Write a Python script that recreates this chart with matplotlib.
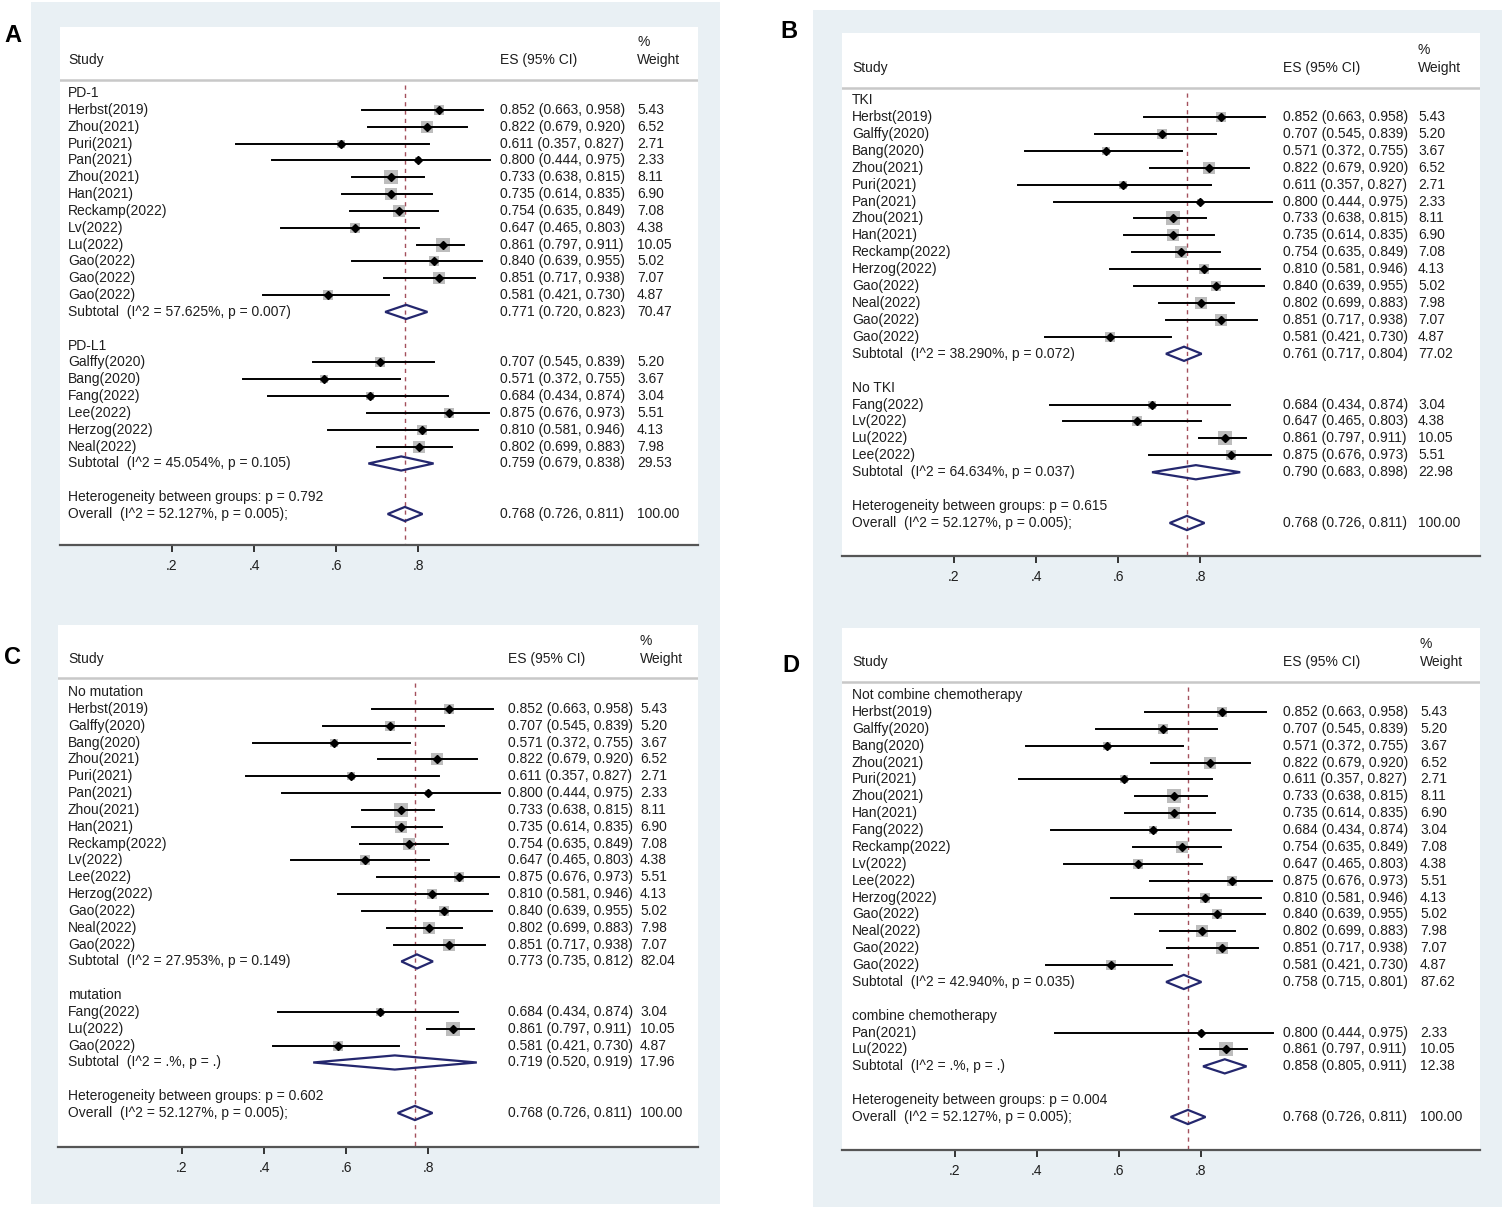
import matplotlib.pyplot as plt
from matplotlib.patches import Rectangle, Polygon

plt.rcParams['font.family'] = ['Liberation Sans', 'DejaVu Sans']

# ---- study data (ES, lower, upper, weight) per panel ----
# Panel A: PD-1 vs PD-L1
a_g1_names = ["Herbst(2019)", "Zhou(2021)", "Puri(2021)", "Pan(2021)", "Zhou(2021)", "Han(2021)",
              "Reckamp(2022)", "Lv(2022)", "Lu(2022)", "Gao(2022)", "Gao(2022)", "Gao(2022)"]
a_g1_es = [0.852, 0.822, 0.611, 0.800, 0.733, 0.735, 0.754, 0.647, 0.861, 0.840, 0.851, 0.581]
a_g1_lo = [0.663, 0.679, 0.357, 0.444, 0.638, 0.614, 0.635, 0.465, 0.797, 0.639, 0.717, 0.421]
a_g1_hi = [0.958, 0.920, 0.827, 0.975, 0.815, 0.835, 0.849, 0.803, 0.911, 0.955, 0.938, 0.730]
a_g1_w = [5.43, 6.52, 2.71, 2.33, 8.11, 6.90, 7.08, 4.38, 10.05, 5.02, 7.07, 4.87]
a_g2_names = ["Galffy(2020)", "Bang(2020)", "Fang(2022)", "Lee(2022)", "Herzog(2022)", "Neal(2022)"]
a_g2_es = [0.707, 0.571, 0.684, 0.875, 0.810, 0.802]
a_g2_lo = [0.545, 0.372, 0.434, 0.676, 0.581, 0.699]
a_g2_hi = [0.839, 0.755, 0.874, 0.973, 0.946, 0.883]
a_g2_w = [5.20, 3.67, 3.04, 5.51, 4.13, 7.98]

# Panel B: TKI vs No TKI
b_g1_names = ["Herbst(2019)", "Galffy(2020)", "Bang(2020)", "Zhou(2021)", "Puri(2021)", "Pan(2021)",
              "Zhou(2021)", "Han(2021)", "Reckamp(2022)", "Herzog(2022)", "Gao(2022)", "Neal(2022)",
              "Gao(2022)", "Gao(2022)"]
b_g1_es = [0.852, 0.707, 0.571, 0.822, 0.611, 0.800, 0.733, 0.735, 0.754, 0.810, 0.840, 0.802, 0.851, 0.581]
b_g1_lo = [0.663, 0.545, 0.372, 0.679, 0.357, 0.444, 0.638, 0.614, 0.635, 0.581, 0.639, 0.699, 0.717, 0.421]
b_g1_hi = [0.958, 0.839, 0.755, 0.920, 0.827, 0.975, 0.815, 0.835, 0.849, 0.946, 0.955, 0.883, 0.938, 0.730]
b_g1_w = [5.43, 5.20, 3.67, 6.52, 2.71, 2.33, 8.11, 6.90, 7.08, 4.13, 5.02, 7.98, 7.07, 4.87]
b_g2_names = ["Fang(2022)", "Lv(2022)", "Lu(2022)", "Lee(2022)"]
b_g2_es = [0.684, 0.647, 0.861, 0.875]
b_g2_lo = [0.434, 0.465, 0.797, 0.676]
b_g2_hi = [0.874, 0.803, 0.911, 0.973]
b_g2_w = [3.04, 4.38, 10.05, 5.51]

# Panel C: No mutation vs mutation
c_g1_names = ["Herbst(2019)", "Galffy(2020)", "Bang(2020)", "Zhou(2021)", "Puri(2021)", "Pan(2021)",
              "Zhou(2021)", "Han(2021)", "Reckamp(2022)", "Lv(2022)", "Lee(2022)", "Herzog(2022)",
              "Gao(2022)", "Neal(2022)", "Gao(2022)"]
c_g1_es = [0.852, 0.707, 0.571, 0.822, 0.611, 0.800, 0.733, 0.735, 0.754, 0.647, 0.875, 0.810, 0.840, 0.802, 0.851]
c_g1_lo = [0.663, 0.545, 0.372, 0.679, 0.357, 0.444, 0.638, 0.614, 0.635, 0.465, 0.676, 0.581, 0.639, 0.699, 0.717]
c_g1_hi = [0.958, 0.839, 0.755, 0.920, 0.827, 0.975, 0.815, 0.835, 0.849, 0.803, 0.973, 0.946, 0.955, 0.883, 0.938]
c_g1_w = [5.43, 5.20, 3.67, 6.52, 2.71, 2.33, 8.11, 6.90, 7.08, 4.38, 5.51, 4.13, 5.02, 7.98, 7.07]
c_g2_names = ["Fang(2022)", "Lu(2022)", "Gao(2022)"]
c_g2_es = [0.684, 0.861, 0.581]
c_g2_lo = [0.434, 0.797, 0.421]
c_g2_hi = [0.874, 0.911, 0.730]
c_g2_w = [3.04, 10.05, 4.87]

# Panel D: Not combine vs combine chemotherapy
d_g1_names = ["Herbst(2019)", "Galffy(2020)", "Bang(2020)", "Zhou(2021)", "Puri(2021)", "Zhou(2021)",
              "Han(2021)", "Fang(2022)", "Reckamp(2022)", "Lv(2022)", "Lee(2022)", "Herzog(2022)",
              "Gao(2022)", "Neal(2022)", "Gao(2022)", "Gao(2022)"]
d_g1_es = [0.852, 0.707, 0.571, 0.822, 0.611, 0.733, 0.735, 0.684, 0.754, 0.647, 0.875, 0.810, 0.840, 0.802, 0.851, 0.581]
d_g1_lo = [0.663, 0.545, 0.372, 0.679, 0.357, 0.638, 0.614, 0.434, 0.635, 0.465, 0.676, 0.581, 0.639, 0.699, 0.717, 0.421]
d_g1_hi = [0.958, 0.839, 0.755, 0.920, 0.827, 0.815, 0.835, 0.874, 0.849, 0.803, 0.973, 0.946, 0.955, 0.883, 0.938, 0.730]
d_g1_w = [5.43, 5.20, 3.67, 6.52, 2.71, 8.11, 6.90, 3.04, 7.08, 4.38, 5.51, 4.13, 5.02, 7.98, 7.07, 4.87]
d_g2_names = ["Pan(2021)", "Lu(2022)"]
d_g2_es = [0.800, 0.861]
d_g2_lo = [0.444, 0.797]
d_g2_hi = [0.975, 0.911]
d_g2_w = [2.33, 10.05]

# subgroup labels, subtotal summaries, heterogeneity
group_labels = {"A": ("PD-1", "PD-L1"), "B": ("TKI", "No TKI"),
                "C": ("No mutation", "mutation"),
                "D": ("Not combine chemotherapy", "combine chemotherapy")}
sub_i2 = {"A": ("57.625", "45.054"), "B": ("38.290", "64.634"),
          "C": ("27.953", "."), "D": ("42.940", ".")}
sub_p = {"A": ("0.007", "0.105"), "B": ("0.072", "0.037"),
         "C": ("0.149", "."), "D": ("0.035", ".")}
sub_es = {"A": (0.771, 0.759), "B": (0.761, 0.790), "C": (0.773, 0.719), "D": (0.758, 0.858)}
sub_lo = {"A": (0.720, 0.679), "B": (0.717, 0.683), "C": (0.735, 0.520), "D": (0.715, 0.805)}
sub_hi = {"A": (0.823, 0.838), "B": (0.804, 0.898), "C": (0.812, 0.919), "D": (0.801, 0.911)}
sub_w = {"A": (70.47, 29.53), "B": (77.02, 22.98), "C": (82.04, 17.96), "D": (87.62, 12.38)}
het_p = {"A": "0.792", "B": "0.615", "C": "0.602", "D": "0.004"}
overall_es, overall_lo, overall_hi = 0.768, 0.726, 0.811
overall_i2, overall_p = "52.127", "0.005"
ticks = [0.2, 0.4, 0.6, 0.8]

studies = {
    "A": ((a_g1_names, a_g1_es, a_g1_lo, a_g1_hi, a_g1_w), (a_g2_names, a_g2_es, a_g2_lo, a_g2_hi, a_g2_w)),
    "B": ((b_g1_names, b_g1_es, b_g1_lo, b_g1_hi, b_g1_w), (b_g2_names, b_g2_es, b_g2_lo, b_g2_hi, b_g2_w)),
    "C": ((c_g1_names, c_g1_es, c_g1_lo, c_g1_hi, c_g1_w), (c_g2_names, c_g2_es, c_g2_lo, c_g2_hi, c_g2_w)),
    "D": ((d_g1_names, d_g1_es, d_g1_lo, d_g1_hi, d_g1_w), (d_g2_names, d_g2_es, d_g2_lo, d_g2_hi, d_g2_w)),
}

# ---- layout in pixels: white box, x of value 0, first row y, row step, header y, separator y, columns ----
W, H = 1502, 1207
PX_PER_UNIT = 410
layout = {
    "A": dict(box=(60, 27, 698, 545), x0=90, row0=93, step=16.84, head=60, sep=80, cols=(68, 500, 637), letter=(13, 35)),
    "B": dict(box=(842, 33, 1480, 556), x0=872, row0=100, step=16.92, head=68, sep=88, cols=(852, 1283, 1418), letter=(789, 32)),
    "C": dict(box=(58, 625, 698, 1147), x0=100, row0=692, step=16.84, head=659, sep=678, cols=(68, 508, 640), letter=(13, 658)),
    "D": dict(box=(842, 628, 1480, 1150), x0=873, row0=695, step=16.88, head=662, sep=682, cols=(852, 1283, 1420), letter=(791, 665)),
}

TEXT = "#1e1e1e"
NAVY = "#24276e"
FS = 10

fig = plt.figure(figsize=(W / 100, H / 100), dpi=100)
fig.patch.set_facecolor("white")

# light blue frames behind the panels
for (x1, y1, x2, y2) in [(31, 2, 720, 1204), (813, 10, 1502, 1207)]:
    fig.add_artist(Rectangle((x1 / W, 1 - y2 / H), (x2 - x1) / W, (y2 - y1) / H,
                             transform=fig.transFigure, facecolor="#e9f0f4", edgecolor="none", zorder=0))


def fmt_ci(es, lo, hi):
    return f"{es:.3f} ({lo:.3f}, {hi:.3f})"


for key in ["A", "B", "C", "D"]:
    L = layout[key]
    bx1, by1, bx2, by2 = L["box"]
    ax = fig.add_axes([bx1 / W, 1 - by2 / H, (bx2 - bx1) / W, (by2 - by1) / H])
    ax.set_facecolor("white")
    # value / row coordinates matching the pixel layout
    ax.set_xlim((bx1 - L["x0"]) / PX_PER_UNIT, (bx2 - L["x0"]) / PX_PER_UNIT)
    ax.set_ylim((by2 - L["row0"]) / L["step"], (by1 - L["row0"]) / L["step"])
    to_x = lambda px: (px - L["x0"]) / PX_PER_UNIT
    to_r = lambda py: (py - L["row0"]) / L["step"]
    cx_study, cx_es, cx_w = to_x(L["cols"][0]), to_x(L["cols"][1]), to_x(L["cols"][2])

    # header
    ax.text(cx_study, to_r(L["head"]), "Study", fontsize=FS, color=TEXT, va="center")
    ax.text(cx_es, to_r(L["head"]), "ES (95% CI)", fontsize=FS, color=TEXT, va="center")
    ax.text(cx_w, to_r(L["head"]), "Weight", fontsize=FS, color=TEXT, va="center")
    ax.text(cx_w, to_r(L["head"] - 18), "%", fontsize=FS, color=TEXT, va="center")
    ax.axhline(to_r(L["sep"]), color="#c8c8c8", lw=1.8)

    # reference line at overall estimate
    ax.plot([overall_es, overall_es], [to_r(L["sep"]) + 0.3, to_r(by2)], color="#a4505c",
            lw=1.0, dashes=(3, 3), zorder=1)

    def diamond(es, lo, hi, r):
        h = 0.42
        ax.add_patch(Polygon([(lo, r), (es, r - h), (hi, r), (es, r + h)], closed=True,
                             facecolor="none", edgecolor=NAVY, lw=1.6, zorder=4))

    row = 0
    for g in range(2):
        names, es, lo, hi, w = studies[key][g]
        ax.text(cx_study, row, group_labels[key][g], fontsize=FS, color=TEXT, va="center")
        row += 1
        for i in range(len(names)):
            ax.plot(es[i], row, marker="s", markersize=3.3 * w[i] ** 0.5, color="#bdbdbd",
                    markeredgewidth=0, zorder=2)
            ax.plot([lo[i], hi[i]], [row, row], color="black", lw=1.4, zorder=3)
            ax.plot(es[i], row, marker="D", markersize=3.6, color="black", zorder=4)
            ax.text(cx_study, row, names[i], fontsize=FS, color=TEXT, va="center")
            ax.text(cx_es, row, fmt_ci(es[i], lo[i], hi[i]), fontsize=FS, color=TEXT, va="center")
            ax.text(cx_w, row, f"{w[i]:.2f}", fontsize=FS, color=TEXT, va="center")
            row += 1
        ax.text(cx_study, row, f"Subtotal  (I^2 = {sub_i2[key][g]}%, p = {sub_p[key][g]})",
                fontsize=FS, color=TEXT, va="center")
        diamond(sub_es[key][g], sub_lo[key][g], sub_hi[key][g], row)
        ax.text(cx_es, row, fmt_ci(sub_es[key][g], sub_lo[key][g], sub_hi[key][g]),
                fontsize=FS, color=TEXT, va="center")
        ax.text(cx_w, row, f"{sub_w[key][g]:.2f}", fontsize=FS, color=TEXT, va="center")
        row += 2

    ax.text(cx_study, row, f"Heterogeneity between groups: p = {het_p[key]}",
            fontsize=FS, color=TEXT, va="center")
    row += 1
    ax.text(cx_study, row, f"Overall  (I^2 = {overall_i2}%, p = {overall_p});",
            fontsize=FS, color=TEXT, va="center")
    diamond(overall_es, overall_lo, overall_hi, row)
    ax.text(cx_es, row, fmt_ci(overall_es, overall_lo, overall_hi), fontsize=FS, color=TEXT, va="center")
    ax.text(cx_w, row, "100.00", fontsize=FS, color=TEXT, va="center")

    # bottom axis
    for s in ["top", "left", "right"]:
        ax.spines[s].set_visible(False)
    ax.spines["bottom"].set_color("#555555")
    ax.spines["bottom"].set_linewidth(1.6)
    ax.set_yticks([])
    ax.set_xticks(ticks)
    ax.set_xticklabels([f"{t:.1f}"[1:] for t in ticks], fontsize=FS, color=TEXT)
    ax.tick_params(axis="x", direction="out", length=5, width=1.4, color="#333333", pad=5)

    # panel letter
    lx, ly = L["letter"]
    fig.text(lx / W, 1 - ly / H, key, fontsize=17, fontweight="bold", ha="center", va="center")

fig.savefig("out.png", dpi=100, facecolor="white")
